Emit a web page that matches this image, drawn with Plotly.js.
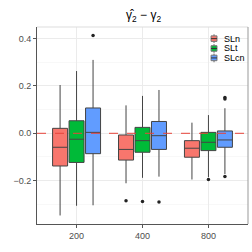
<!DOCTYPE html>
<html><head><meta charset="utf-8">
<script src="https://cdn.plot.ly/plotly-3.0.1.min.js"></script>
<style>html,body{margin:0;padding:0;background:#fff}#c{width:252px;height:252px}</style>
</head><body><div id="c"></div>
<script>
const groups = ['200','400','800'];
const series = ['SLn','SLt','SLcn'];
const colors = ['#F8766D','#00BA38','#619CFF'];
const q1  = [[-0.138,-0.113,-0.101],[-0.123,-0.080,-0.073],[-0.086,-0.068,-0.059]];
const med = [[-0.059,-0.068,-0.063],[-0.025,-0.031,-0.038],[0.004,-0.010,-0.028]];
const q3  = [[0.021,-0.007,-0.031],[0.053,0.025,0.004],[0.107,0.050,0.010]];
const lo  = [[-0.347,-0.211,-0.195],[-0.306,-0.188,-0.185],[-0.304,-0.183,-0.172]];
const hi  = [[0.204,0.118,0.045],[0.263,0.158,0.077],[0.310,0.183,0.106]];
const outX = [['400'],['400','800'],['200','400','800','800','800']];
const outY = [[-0.285],[-0.288,-0.195],[0.413,-0.290,0.151,0.145,-0.182]];

const traces = [];
series.forEach((s,i)=>{
  traces.push({type:'box', name:s, x:groups, q1:q1[i], median:med[i], q3:q3[i],
    lowerfence:lo[i], upperfence:hi[i], offsetgroup:s, showlegend:false,
    fillcolor:colors[i], line:{color:'#444', width:1}, whiskerwidth:0, boxpoints:false, hoverinfo:'none'});
});
series.forEach((s,i)=>{
  traces.push({type:'scatter', mode:'markers', x:outX[i], y:outY[i], offsetgroup:s,
    showlegend:false, marker:{color:'#222', size:3.5}, hoverinfo:'none'});
});

// manual legend (keys + labels) in paper coordinates
const legX0 = 0.825, legX1 = 0.853, legTextX = 0.875;
const legY = [0.941, 0.891, 0.843];
const legH = 0.014;
const legendShapes = [], legendAnn = [];
series.forEach((s,i)=>{
  const y = legY[i];
  const xm = (legX0+legX1)/2;
  legendShapes.push({type:'line', xref:'paper', yref:'paper', x0:xm, x1:xm, y0:y-legH-0.008, y1:y+legH+0.008, line:{color:'#666', width:1}});
  legendShapes.push({type:'rect', xref:'paper', yref:'paper', x0:legX0, x1:legX1, y0:y-legH, y1:y+legH, fillcolor:colors[i], line:{color:'#777', width:1}});
  legendShapes.push({type:'line', xref:'paper', yref:'paper', x0:legX0, x1:legX1, y0:y, y1:y, line:{color:'#333', width:1}});
  legendAnn.push({xref:'paper', yref:'paper', x:legTextX, y:y, xanchor:'left', yanchor:'middle', text:s, showarrow:false, font:{size:9, color:'#000'}});
});

const layout = {
  width:252, height:252, margin:{l:37,r:4,t:27,b:28},
  paper_bgcolor:'#fff', plot_bgcolor:'#fff',
  boxmode:'group', boxgap:0.25, boxgroupgap:0.09, scattermode:'group', scattergap:0.25,
  font:{family:'Liberation Sans, Arial, sans-serif', size:9, color:'#4D4D4D'},
  title:{text:'γ\u0302<sub>2</sub> − γ<sub>2</sub>', x:0.57, xanchor:'center', y:0.94, yanchor:'middle',
    font:{size:12, color:'#000'}},
  xaxis:{type:'category', range:[-0.6,2.6], showgrid:true, gridcolor:'#EBEBEB', gridwidth:1,
    showline:true, linecolor:'#555', linewidth:1, mirror:false, ticks:'outside', ticklen:3, tickcolor:'#555',
    tickfont:{size:9,color:'#4D4D4D'}, zeroline:false},
  yaxis:{range:[-0.383,0.449], tick0:0, dtick:0.2, tickformat:'.1f', showgrid:true, gridcolor:'#EBEBEB', gridwidth:1,
    minor:{tick0:0.1, dtick:0.2, showgrid:true, gridcolor:'#F4F4F4', gridwidth:0.6},
    showline:true, linecolor:'#555', linewidth:1, ticks:'outside', ticklen:3, tickcolor:'#555',
    tickfont:{size:9,color:'#4D4D4D'}, zeroline:false},
  showlegend:false,
  annotations:legendAnn,
  shapes:[
    {type:'line', xref:'paper', x0:0, x1:1, yref:'y', y0:0, y1:0, line:{color:'#E8443A', width:1, dash:'dash'}},
    {type:'line', xref:'paper', x0:0, x1:1, yref:'paper', y0:1, y1:1, line:{color:'#DDD', width:1}},
    {type:'line', xref:'paper', x0:1, x1:1, yref:'paper', y0:0, y1:1, line:{color:'#999', width:1}}
  ].concat(legendShapes)
};
Plotly.newPlot('c', traces, layout, {staticPlot:true, displayModeBar:false});
</script></body></html>
